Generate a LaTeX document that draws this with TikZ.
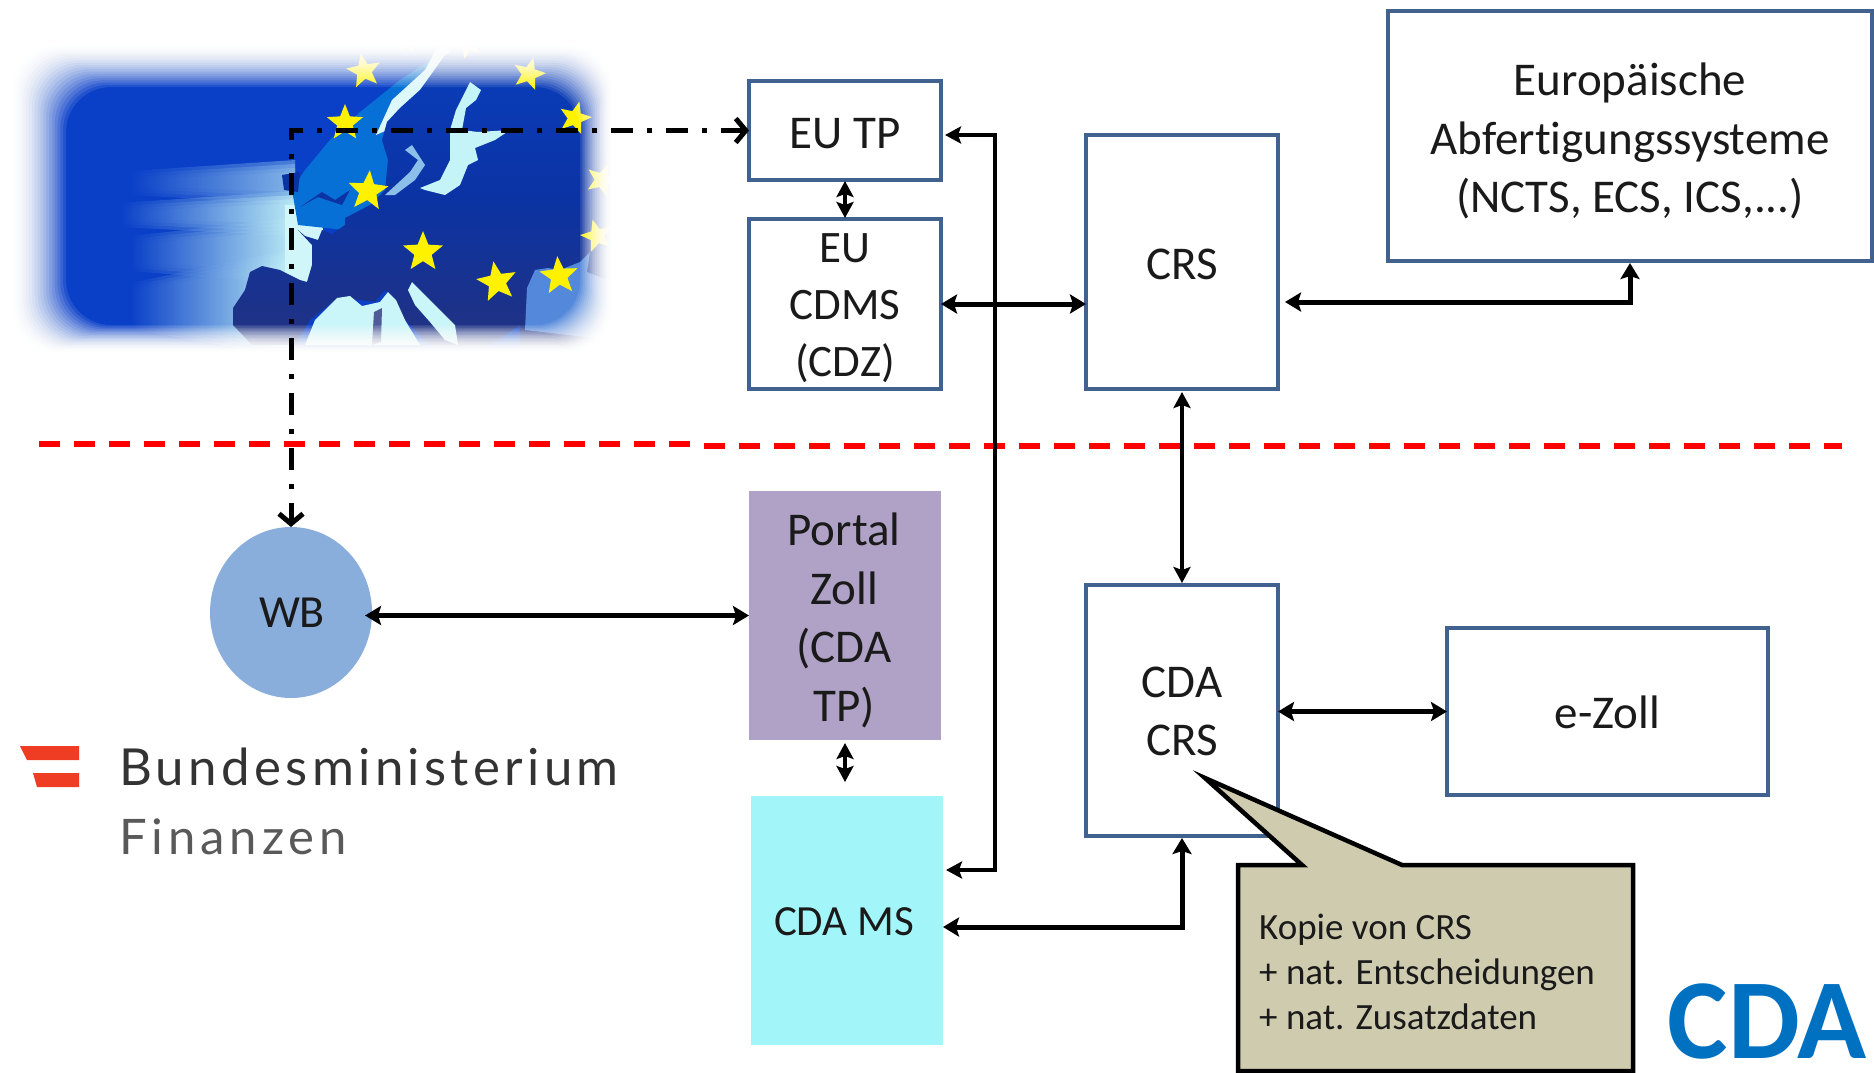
\documentclass[tikz,border=0pt]{standalone}
\usepackage{fontspec}
\setmainfont[Ligatures=NoCommon]{Carlito}
\newfontfamily\logofont[LetterSpace=8.5]{Lato}
\newfontfamily\logofontb[LetterSpace=10]{Lato}
\usetikzlibrary{arrows.meta,shapes.geometric}
\definecolor{boxblue}{HTML}{41618F}
\definecolor{portalc}{HTML}{B0A2C6}
\definecolor{msc}{HTML}{A2F6FA}
\definecolor{wbc}{HTML}{8AAEDC}
\definecolor{callc}{HTML}{CFCBAF}
\definecolor{cdab}{HTML}{0070C0}
\definecolor{bgb}{HTML}{0A40C8}
\definecolor{glowc}{HTML}{C4F4F8}
\definecolor{landa}{HTML}{0A3FBE}
\definecolor{landb}{HTML}{0B33A4}
\definecolor{landc}{HTML}{23327F}
\definecolor{logored}{HTML}{EE3D23}
\definecolor{txt}{HTML}{1A1A1A}
\tikzset{
  sysbox/.style={draw=boxblue,line width=4.6pt,fill=white,rectangle,inner sep=0pt,outer sep=0pt},
  flatbox/.style={rectangle,inner sep=0pt,outer sep=0pt},
  lbl/.style={inner sep=0pt,outer sep=0pt,align=center,text=txt,font=\fontsize{47}{58.6}\selectfont},
  bi/.style={line width=5pt,{Stealth[length=16pt,width=19pt,inset=3pt]}-{Stealth[length=16pt,width=19pt,inset=3pt]}},
  bithin/.style={line width=4pt,{Stealth[length=16pt,width=17pt,inset=3pt]}-{Stealth[length=16pt,width=17pt,inset=3pt]}},
  dd/.style={line width=5pt,dash pattern=on 22pt off 14pt on 5pt off 14pt,{Straight Barb[length=10pt,width=24pt]}-{Straight Barb[length=10pt,width=24pt]}},
  reddash/.style={red,line width=5.5pt,dash pattern=on 21pt off 14pt},
  eustar/.style={star,star points=5,star point ratio=2.3,fill=yellow,inner sep=0pt,outer sep=0pt}
}
\begin{document}
\begin{tikzpicture}[x=1pt,y=-1pt]
\useasboundingbox (0,0) rectangle (1874,1072);
% ---- Europe picture
\fill[bgb] (12,45) rectangle (612,352);
\foreach \k in {3,2,1,0}{
  \shade[opacity=.5,left color=bgb,right color=bgb!30!glowc] (295,172-4*\k) -- (295,192+4*\k) -- (130,186+3*\k) -- (130,180-3*\k) -- cycle;
  \shade[opacity=.55,left color=bgb,right color=glowc] (295,203-4*\k) -- (295,224+4*\k) -- (120,218+3*\k) -- (120,212-3*\k) -- cycle;
  \shade[opacity=.55,left color=bgb,right color=glowc] (295,230-4*\k) -- (295,272+4*\k) -- (130,262+3*\k) -- (130,245-3*\k) -- cycle;
  \shade[opacity=.55,left color=bgb,right color=glowc] (290,262-4*\k) -- (290,345+4*\k) -- (130,320+3*\k) -- (130,292-3*\k) -- cycle;
}
\fill[glowc!80!white] (285,205) -- (320,205) -- (330,290) -- (285,300) -- cycle;
\fill[bgb!75!cyan] (298,225) -- (292,190) -- (305,170) -- (330,140) -- (360,112) -- (400,80) -- (430,60) -- (440,240) -- cycle;
\fill[glowc!60!white] (376,135) -- (392,100) -- (425,70) -- (440,42) -- (458,32) -- (445,65) -- (412,108) -- (392,128) -- cycle;
\fill[landb] (300,207) -- (318,197) -- (342,205) -- (350,190) -- (335,200) -- (322,192) -- cycle;
\fill[landb] (282,175) -- (300,172) -- (298,192) -- (284,190) -- cycle;
\shade[top color=landa,bottom color=landc,middle color=landb]
  (298,230) -- (305,236) -- (318,240) -- (322,230) -- (332,234) -- (345,225) -- (345,218) -- (370,205) -- (385,190) -- (388,160) -- (382,140) -- (387,122) -- (400,108) -- (420,90) -- (433,72) -- (445,55) -- (470,42) -- (612,45) -- (612,352) -- (520,352) -- (520,325) -- (490,345) -- (470,352) -- (445,352) -- (430,345) -- (405,320) -- (395,300) -- (385,290) -- (375,302) -- (360,300) -- (337,298) -- (310,320) -- (295,345) -- (252,345) -- (233,325) -- (233,308) -- (245,290) -- (250,272) -- (262,266) -- (280,270) -- (300,280) -- (307,282) -- (312,265) -- (312,245) -- cycle;
% Baltic, fjords, Adriatic, Black Sea
\fill[glowc] (470,82) -- (481,90) -- (476,100) -- (466,108) -- (462,130) -- (478,132) -- (510,130) -- (495,140) -- (475,148) -- (478,160) -- (468,165) -- (460,185) -- (445,195) -- (425,190) -- (420,188) -- (440,180) -- (450,160) -- (450,130) -- (456,110) -- cycle;
\fill[glowc!70!bgb] (385,195) -- (410,172) -- (418,160) -- (405,150) -- (412,145) -- (425,165) -- (415,180) -- (395,195) -- cycle;
\fill[glowc!90!white] (408,290) -- (412,282) -- (420,290) -- (440,310) -- (455,325) -- (458,345) -- (445,340) -- (430,322) -- (415,305) -- cycle;
\fill[glowc!90!white] (337,298) -- (350,296) -- (362,306) -- (380,302) -- (388,292) -- (396,300) -- (405,320) -- (420,345) -- (305,345) -- (315,320) -- cycle;
\fill[landc!80!white] (374,312) -- (382,308) -- (381,342) -- (372,345) -- cycle;
\fill[glowc!40!bgb] (527,288) -- (535,270) -- (548,268) -- (560,270) -- (580,262) -- (590,252) -- (587,272) -- (612,282) -- (612,340) -- (525,330) -- cycle;
% Stars
\foreach \n/\sx/\sy/\sr/\sa in {a/364/71/18/10,b/468/45/14/20,c/406/42/12/0,d/529/74/17/-15,e/345/123/19/0,f/575/118/17/-15,g/368/191/21/-5,h/602/180/17/-20,i/423/252/21/0,j/597/236/17/15,k/497/282/21/10,l/559/276/20/5}
  \node[eustar,minimum size=2*\sr*1pt,rotate=\sa] (star\n) at (\sx,\sy) {};
% Soft white edge: opacities chosen for a quick fade to pure white
\foreach \i in {0,...,19}{
  \pgfmathsetmacro{\fa}{66-54*\i/19}
  \pgfmathsetmacro{\fb}{87-42*\i/19}
  \pgfmathsetmacro{\fc}{580+32*\i/19}
  \pgfmathsetmacro{\fd}{325+27*\i/19}
  \pgfmathsetmacro{\fo}{1-((19-\i)/(20-\i))^2}
  \fill[white,fill opacity=\fo,even odd rule,rounded corners=45pt] (0,0) rectangle (660,380) (\fa,\fb) rectangle (\fc,\fd);
}
% ---- Red boundary
\coordinate (redA) at (39,444);
\coordinate (redB) at (700,444);
\coordinate (redC) at (704,446);
\coordinate (redD) at (1842,446);
\draw[reddash] (redA) -- (redB);
\draw[reddash] (redC) -- (redD);
% ---- Boxes
\node[sysbox,minimum width=192pt,minimum height=99pt] (eutp) at (845,130.5) {};
\node[sysbox,minimum width=192pt,minimum height=170pt] (cdms) at (845,304) {};
\node[sysbox,minimum width=192pt,minimum height=254pt] (crs) at (1182,262) {};
\node[sysbox,minimum width=484pt,minimum height=250pt] (europ) at (1630,136) {};
\node[sysbox,minimum width=192pt,minimum height=251pt] (cdacrs) at (1182,710.5) {};
\node[sysbox,minimum width=321pt,minimum height=167pt] (ezoll) at (1607.5,711.5) {};
\node[flatbox,fill=portalc,minimum width=192pt,minimum height=249pt] (portal) at (845,615.5) {};
\node[flatbox,fill=msc,minimum width=192pt,minimum height=249pt] (cdams) at (847,920.5) {};
\node[ellipse,fill=wbc,inner sep=0pt,outer sep=0pt,minimum width=162pt,minimum height=171pt] (wb) at (291,612.5) {};
% ---- Labels
\node[lbl] (eutpT) at ([yshift=-3pt]eutp.center) {EU TP};
\node[lbl,font=\fontsize{45}{57}\selectfont] (cdmsT) at ([yshift=-4pt]cdms.center) {EU\\CDMS\\(CDZ)};
\node[lbl] (crsT) at ([yshift=-2pt]crs.center) {CRS};
\node[lbl] (europT) at ([yshift=-5pt]europ.center) {Europäische\\Abfertigungssysteme\\(NCTS, ECS, ICS,...)};
\node[lbl] (cdacrsT) at ([yshift=-1pt]cdacrs.center) {CDA\\CRS};
\node[lbl] (ezollT) at ([yshift=-1pt]ezoll.center) {e-Zoll};
\node[lbl] (portalT) at ([yshift=-5pt,xshift=-1pt]portal.center) {Portal\\Zoll\\(CDA\\TP)};
\node[lbl,font=\fontsize{43}{50}\selectfont] (cdamsT) at ([yshift=-1pt,xshift=-3pt]cdams.center) {CDA MS};
\node[lbl,font=\fontsize{46}{56}\selectfont] (wbT) at ([xshift=1pt]wb.center) {WB};
% ---- Connectors
\coordinate (busx) at (995,500);
\coordinate (busA) at ([yshift=-4.5pt]eutp.east);
\coordinate (busB) at ([yshift=50.5pt]cdams.east);
\coordinate (msA) at ([yshift=-6.5pt]cdams.east);
\coordinate (crA) at ([yshift=-40pt]crs.east);
\draw[dd] (eutp.west) -- (eutp.west -| wb.north) -- (wb.north);
\draw[bithin,shorten <=1pt,shorten >=1pt] (eutp.south) -- (cdms.north);
\draw[bi] (cdms.east) -- (cdms.east -| crs.west);
\draw[bi,shorten <=7pt,shorten >=2pt] (crA) -- (crA -| europ.south) -- (europ.south);
\draw[bithin,shorten <=3pt,shorten >=2pt] (crs.south) -- (cdacrs.north);
\draw[bithin,shorten <=4pt,shorten >=3pt] (busA) -- (busA -| busx) -- (busB -| busx) -- (busB);
\draw[bi,shorten >=2pt] (msA) -- (msA -| cdacrs.south) -- (cdacrs.south);
\draw[bi,shorten <=-7pt] (wb.east |- portal.west) -- (portal.west);
\draw[bithin,shorten <=3pt,shorten >=14pt] (portal.south) -- (portal.south |- cdams.north);
\draw[bi] (cdacrs.east |- ezoll.west) -- (ezoll.west);
% ---- Callout
\coordinate (tip) at (1205,778);
\coordinate (calla) at (1302,865);
\coordinate (callb) at (1402,865);
\coordinate (callc1) at (1633,865);
\coordinate (callc2) at (1633,1071);
\coordinate (callc3) at (1238,1071);
\coordinate (callc4) at (1238,865);
\draw[line width=4.5pt,fill=callc,line join=miter] (tip) -- (callb) -- (callc1) -- (callc2) -- (callc3) -- (callc4) -- (calla) -- cycle;
\node[anchor=west,inner sep=0pt,align=left,text=txt,font=\fontsize{37}{45}\selectfont] (calltext) at (1259,972) {Kopie von CRS\\+ nat. Entscheidungen\\+ nat. Zusatzdaten};
% ---- Brand label
\node[anchor=center,inner sep=0pt,text=cdab,font=\fontsize{114}{120}\selectfont\bfseries] (cdalabel) at (1767,1021) {CDA};
% ---- Ministry logo
\coordinate (lg1) at (20,746);
\fill[logored] (lg1) -- ++(59,0) -- ++(0,14) -- ++(-52,0) -- cycle;
\coordinate (lg2) at (33,773);
\fill[logored] (lg2) -- ++(46,0) -- ++(0,14) -- ++(-42,0) -- cycle;
\node[anchor=base west,inner sep=0pt,text=black!80,font=\logofont\fontsize{51}{60}\selectfont] (bmf1) at (119,785) {Bundesministerium};
\node[anchor=base west,inner sep=0pt,text=black!65,font=\logofontb\fontsize{49}{60}\selectfont] (bmf2) at (119,854) {Finanzen};
\end{tikzpicture}
\end{document}
